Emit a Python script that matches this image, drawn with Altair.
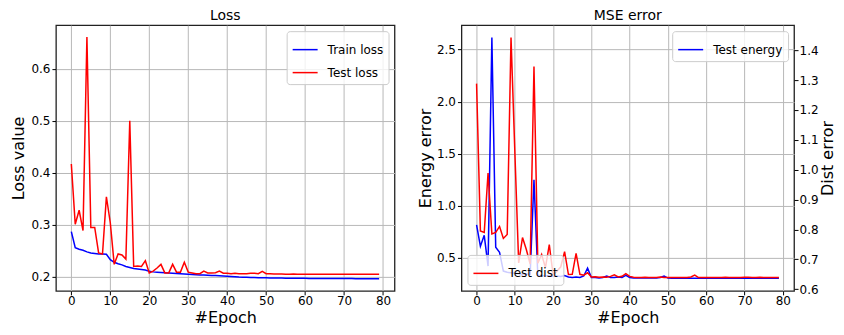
import altair as alt
import pandas as pd

epochs = list(range(80))

train_loss = [0.287, 0.256, 0.253, 0.251, 0.248, 0.246, 0.245, 0.244, 0.244, 0.2435,
              0.233, 0.228, 0.225, 0.223, 0.220, 0.218, 0.216, 0.215, 0.214, 0.213,
              0.2105, 0.2095, 0.209, 0.2085, 0.208, 0.2075, 0.207, 0.2065, 0.206, 0.2055,
              0.205, 0.2045, 0.204, 0.2035, 0.2035, 0.203, 0.2025, 0.2025, 0.202, 0.2015,
              0.201, 0.2005, 0.200, 0.1995, 0.1993, 0.199, 0.1988, 0.1985, 0.1983, 0.198,
              0.198, 0.1978, 0.1977, 0.1976, 0.1975, 0.1974, 0.1973, 0.1972, 0.1971, 0.197,
              0.197, 0.1969, 0.1969, 0.1968, 0.1968, 0.1968, 0.1967, 0.1967, 0.1967, 0.1966,
              0.1966, 0.1966, 0.1966, 0.1965, 0.1965, 0.1965, 0.1965, 0.1965, 0.1965, 0.1965]

test_loss = [0.417, 0.301, 0.328, 0.289, 0.661, 0.295, 0.295, 0.246, 0.244, 0.354,
             0.304, 0.224, 0.244, 0.242, 0.234, 0.500, 0.220, 0.221, 0.220, 0.231,
             0.2075, 0.211, 0.217, 0.224, 0.2075, 0.2075, 0.224, 0.209, 0.209, 0.228,
             0.209, 0.2075, 0.206, 0.206, 0.211, 0.2075, 0.2075, 0.208, 0.211, 0.207,
             0.207, 0.206, 0.207, 0.206, 0.206, 0.206, 0.207, 0.207, 0.206, 0.2105,
             0.206, 0.206, 0.2055, 0.2055, 0.2055, 0.205, 0.205, 0.2055, 0.205, 0.205,
             0.205, 0.205, 0.205, 0.205, 0.205, 0.205, 0.205, 0.205, 0.205, 0.205,
             0.205, 0.205, 0.205, 0.205, 0.205, 0.205, 0.205, 0.205, 0.205, 0.205]

test_energy = [0.815, 0.61, 0.715, 0.42, 2.615, 0.60, 0.553, 0.372, 0.36, 0.355,
               0.35, 0.345, 0.34, 0.345, 0.34, 1.25, 0.33, 0.33, 0.325, 0.33,
               0.32, 0.325, 0.32, 0.33, 0.315, 0.31, 0.315, 0.31, 0.325, 0.40,
               0.31, 0.31, 0.305, 0.31, 0.325, 0.31, 0.31, 0.315, 0.31, 0.33,
               0.31, 0.305, 0.305, 0.305, 0.305, 0.305, 0.305, 0.305, 0.31, 0.325,
               0.305, 0.303, 0.303, 0.303, 0.303, 0.303, 0.303, 0.303, 0.303, 0.303,
               0.303, 0.303, 0.303, 0.303, 0.303, 0.303, 0.303, 0.303, 0.303, 0.303,
               0.303, 0.303, 0.303, 0.303, 0.303, 0.303, 0.303, 0.302, 0.302, 0.302]

test_dist = [1.288, 0.795, 0.79, 0.989, 0.785, 0.79, 0.81, 0.77, 0.783, 1.442,
             1.06, 0.688, 0.773, 0.733, 0.684, 1.345, 0.687, 0.716, 0.672, 0.749,
             0.648, 0.66, 0.675, 0.726, 0.649, 0.65, 0.72, 0.65, 0.647, 0.655,
             0.641, 0.642, 0.640, 0.641, 0.640, 0.643, 0.648, 0.641, 0.643, 0.652,
             0.643, 0.640, 0.639, 0.639, 0.640, 0.639, 0.639, 0.639, 0.641, 0.639,
             0.639, 0.639, 0.639, 0.639, 0.639, 0.639, 0.641, 0.647, 0.639, 0.639,
             0.639, 0.639, 0.639, 0.639, 0.639, 0.640, 0.639, 0.639, 0.639, 0.639,
             0.640, 0.640, 0.639, 0.639, 0.640, 0.639, 0.639, 0.639, 0.639, 0.639]

x_ticks = [0, 10, 20, 30, 40, 50, 60, 70, 80]
loss_ticks = [0.2, 0.3, 0.4, 0.5, 0.6]
energy_ticks = [0.5, 1.0, 1.5, 2.0, 2.5]
dist_ticks = [0.6, 0.7, 0.8, 0.9, 1.0, 1.1, 1.2, 1.3, 1.4]

FONT = "DejaVu Sans"

train_df = pd.DataFrame({"epoch": epochs, "value": train_loss, "series": "Train loss"})
test_df = pd.DataFrame({"epoch": epochs, "value": test_loss, "series": "Test loss"})
energy_df = pd.DataFrame({"epoch": epochs, "value": test_energy, "series": "Test energy"})
dist_df = pd.DataFrame({"epoch": epochs, "value": test_dist, "series": "Test dist"})

x_enc = alt.X("epoch:Q",
              scale=alt.Scale(domain=[-3.95, 82.95], nice=False, zero=False),
              axis=alt.Axis(values=x_ticks, title="#Epoch", titlePadding=3, labelPadding=1))


def legend(orient):
    return alt.Legend(orient=orient, title=None, offset=6, padding=5,
                      symbolType="stroke", symbolSize=625, symbolStrokeWidth=1.5,
                      labelFontSize=12, labelFont=FONT, labelColor="black",
                      labelOffset=9, rowPadding=3, cornerRadius=3,
                      strokeColor="#cccccc", fillColor="rgba(255,255,255,0.8)")


loss_color = alt.Color("series:N",
                       scale=alt.Scale(domain=["Train loss", "Test loss"], range=["#0000ff", "#ff0000"]),
                       legend=legend("top-right"))
loss_y = alt.Y("value:Q",
               scale=alt.Scale(domain=[0.173, 0.684], nice=False, zero=False),
               axis=alt.Axis(values=loss_ticks, format=".1f", title="Loss value", titlePadding=4))

H = 266

left = alt.layer(
    alt.Chart(train_df).mark_line(strokeWidth=1.5).encode(x=x_enc, y=loss_y, color=loss_color),
    alt.Chart(test_df).mark_line(strokeWidth=1.5).encode(x=x_enc, y=loss_y, color=loss_color),
).properties(width=339, height=H, title="Loss")

energy_layer = alt.Chart(energy_df).mark_line(strokeWidth=1.5).encode(
    x=x_enc,
    y=alt.Y("value:Q",
            scale=alt.Scale(domain=[0.182, 2.734], nice=False, zero=False),
            axis=alt.Axis(values=energy_ticks, format=".1f", title="Energy error", titlePadding=3)),
    color=alt.Color("series:N", scale=alt.Scale(domain=["Test energy"], range=["#0000ff"]),
                    legend=legend("top-right")),
)

dist_layer = alt.Chart(dist_df).mark_line(strokeWidth=1.5).encode(
    x=x_enc,
    y=alt.Y("value:Q",
            scale=alt.Scale(domain=[0.5945, 1.4837], nice=False, zero=False),
            axis=alt.Axis(values=dist_ticks, format=".1f", title="Dist error", orient="right",
                          titleAngle=270, titleBaseline="top", titlePadding=1, labelPadding=1)),
    color=alt.Color("series:N", scale=alt.Scale(domain=["Test dist"], range=["#ff0000"]),
                    legend=legend("bottom-left")),
)

right = alt.layer(energy_layer, dist_layer).resolve_scale(
    y="independent", color="independent"
).resolve_legend(color="independent").properties(width=333, height=H, title="MSE error")

chart = alt.hconcat(left, right, spacing=21).resolve_scale(
    color="independent"
).resolve_legend(
    color="independent"
).properties(
    padding={"left": 2, "top": 0, "right": 0, "bottom": 0}
).configure_view(
    stroke="#222222", strokeWidth=1.3
).configure_axis(
    labelFont=FONT, titleFont=FONT, labelFontSize=12, titleFontSize=16,
    titleFontWeight="normal", labelColor="black", titleColor="black",
    tickColor="black", tickSize=4, tickWidth=1, labelPadding=2,
    domain=False, grid=True, gridColor="#b8b8b8", gridWidth=1
).configure_title(
    font=FONT, fontSize=14, fontWeight="normal", color="black", offset=2, anchor="middle"
)

chart.save("out.html", embed_options={"renderer": "svg", "actions": False})
